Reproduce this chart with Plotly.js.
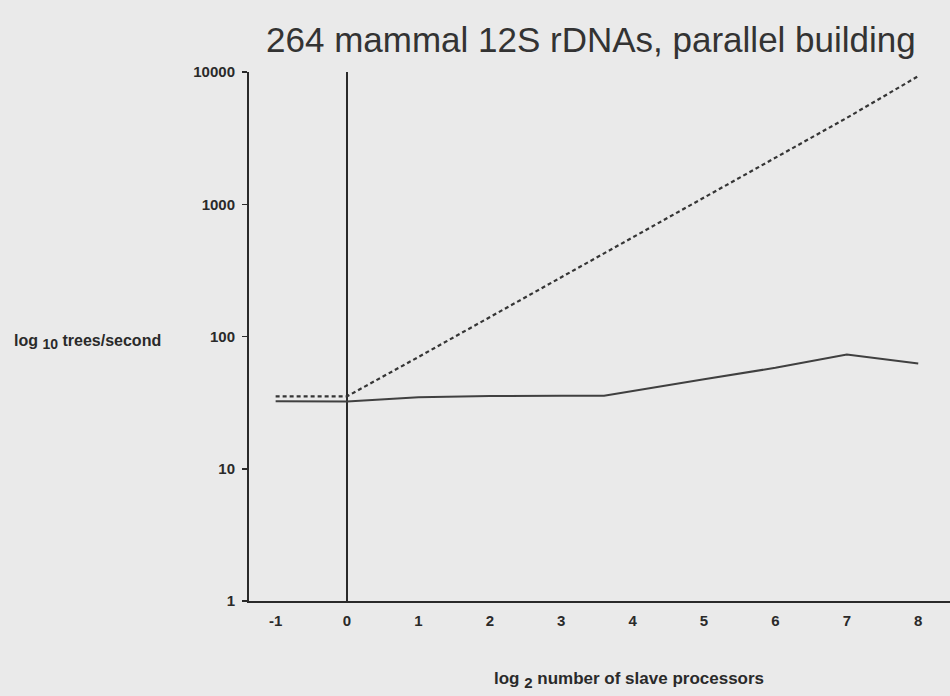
<!DOCTYPE html>
<html>
<head>
<meta charset="utf-8">
<script src="https://cdn.plot.ly/plotly-3.0.1.min.js"></script>
<style>
html,body{margin:0;padding:0;background:#eaeaea;}
#chart{width:950px;height:696px;}
</style>
</head>
<body>
<div id="chart"></div>
<script>
// Data
const idealX = [-1, 0, 1, 2, 3, 4, 5, 6, 7, 8];
const idealY = [35.3, 35.3, 70, 140, 280, 560, 1120, 2240, 4500, 9300];
const actualX = [-1, 0, 1, 2, 3, 3.6, 5, 6, 7, 8];
const actualY = [32.4, 32.2, 34.8, 35.5, 35.6, 35.7, 47.5, 58, 73, 62.4];
const yTickVals = [1, 10, 100, 1000, 10000];
const yTickText = ['1', '10', '100', '1000', '10000'];
const xTickVals = [-1, 0, 1, 2, 3, 4, 5, 6, 7, 8];
const xTickText = ['-1', '0', '1', '2', '3', '4', '5', '6', '7', '8'];

const sans = '"Liberation Sans", Arial, sans-serif';
const ink = '#2a2a2a';

const traces = [
  {
    x: idealX, y: idealY, type: 'scatter', mode: 'lines',
    line: {color: '#353535', width: 2.2, dash: '4px,3px'},
    hoverinfo: 'skip', showlegend: false
  },
  {
    x: actualX, y: actualY, type: 'scatter', mode: 'lines',
    line: {color: '#404040', width: 2},
    hoverinfo: 'skip', showlegend: false
  }
];

const layout = {
  width: 950, height: 696,
  paper_bgcolor: '#eaeaea', plot_bgcolor: '#eaeaea',
  margin: {l: 249, r: 0, t: 72, b: 95},
  showlegend: false,
  title: {
    text: '264 mammal 12S rDNAs, parallel building',
    font: {family: sans, size: 35, color: '#333333'},
    x: 0.622, xanchor: 'center', y: 0.9425, yanchor: 'middle', yref: 'container'
  },
  xaxis: {
    range: [-1.373, 8.445],
    tickvals: xTickVals, ticktext: xTickText,
    showgrid: false,
    zeroline: true, zerolinecolor: ink, zerolinewidth: 1.5,
    showline: true, linecolor: ink, linewidth: 2,
    ticks: '', ticklabelstandoff: 5,
    tickfont: {family: sans, size: 15, color: ink, weight: 'bold'}
  },
  yaxis: {
    type: 'log', range: [0, 4],
    tickvals: yTickVals, ticktext: yTickText,
    showgrid: false, zeroline: false,
    showline: true, linecolor: ink, linewidth: 2,
    ticks: 'outside', ticklen: 5, tickwidth: 1.5, tickcolor: ink,
    ticklabelstandoff: 4,
    tickfont: {family: sans, size: 15, color: ink, weight: 'bold'}
  },
  annotations: [
    {
      text: 'log <sub><span style="font-size:14px">10</span></sub> trees/second',
      xref: 'paper', yref: 'paper', x: -0.338, y: 0.49,
      xanchor: 'left', yanchor: 'middle', showarrow: false,
      font: {family: sans, size: 16, color: ink, weight: 'bold'}
    },
    {
      text: 'log <sub><span style="font-size:15px">2</span></sub> number of slave processors',
      xref: 'paper', yref: 'paper', x: 0.3466, y: -0.15,
      xanchor: 'left', yanchor: 'middle', showarrow: false,
      font: {family: sans, size: 17, color: ink, weight: 'bold'}
    }
  ]
};

Plotly.newPlot('chart', traces, layout, {staticPlot: true, displayModeBar: false});
</script>
</body>
</html>
